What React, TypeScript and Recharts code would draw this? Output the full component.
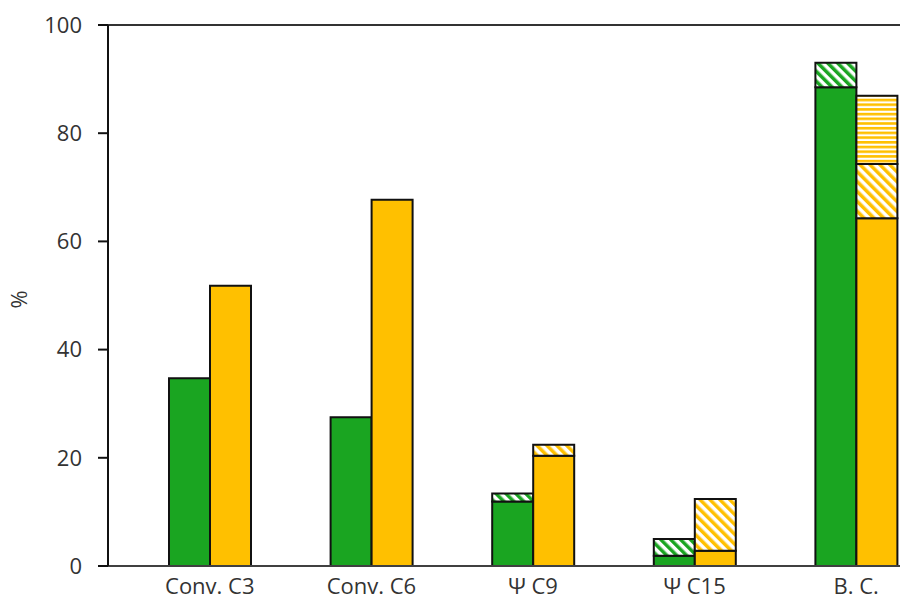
import React from 'react';
import { BarChart, Bar, XAxis, YAxis, ReferenceLine } from 'recharts';

// Category labels along the x axis
const categories = ['Conv. C3', 'Conv. C6', 'Ψ C9', 'Ψ C15', 'B. C.'];

// Green stack: solid base and hatched top segment (%)
const greenSolid = [34.7, 27.5, 11.9, 1.9, 88.5];
const greenHatch = [0, 0, 1.5, 3.1, 4.5];

// Yellow stack: solid base, diagonal-hatched and horizontal-hatched segments (%)
const yellowSolid = [51.8, 67.7, 20.4, 2.8, 64.3];
const yellowDiag = [0, 0, 2.0, 9.6, 10.0];
const yellowHoriz = [0, 0, 0, 0, 12.6];

const yTicks = [0, 20, 40, 60, 80, 100];

const GREEN = '#1AA521';
const YELLOW = '#FFC000';
const FONT = '"Open Sans", sans-serif';

const data = categories.map((cat, i) => ({
  cat,
  gSolid: greenSolid[i],
  gHatch: greenHatch[i],
  ySolid: yellowSolid[i],
  yDiag: yellowDiag[i],
  yHoriz: yellowHoriz[i],
}));

const tickStyle = { fontFamily: FONT, fontSize: 22, fill: '#333' };

// Rotated "%" title drawn at the left edge, centred on the y axis
const AxisTitle = (props: any) => {
  const vb = props.viewBox || {};
  const cy = (vb.y ?? 0) + (vb.height ?? 0) / 2 + 4;
  const cx = 18;
  return (
    <text
      x={cx}
      y={cy}
      transform={`rotate(-90, ${cx}, ${cy})`}
      textAnchor="middle"
      dominantBaseline="central"
      fontFamily={FONT}
      fontSize={22}
      fill="#333"
    >
      %
    </text>
  );
};

export default function App() {
  return (
    <div style={{ marginTop: -8, marginLeft: -8, width: 908, height: 601, overflow: 'hidden' }}>
      <BarChart
        width={948}
        height={601}
        data={data}
        margin={{ top: 25, right: 11, bottom: 2, left: 0 }}
        barGap={0}
        barSize={41}
      >
        <defs>
          <pattern id="greenDiag" patternUnits="userSpaceOnUse" width="7" height="7" patternTransform="rotate(-45)">
            <rect x="0" y="0" width="7" height="7" fill="#fff" />
            <rect x="0" y="0" width="3.5" height="7" fill={GREEN} />
          </pattern>
          <pattern id="yellowDiag" patternUnits="userSpaceOnUse" width="7" height="7" patternTransform="rotate(-45)">
            <rect x="0" y="0" width="7" height="7" fill="#fff" />
            <rect x="0" y="0" width="3.5" height="7" fill={YELLOW} />
          </pattern>
          <pattern id="yellowHoriz" patternUnits="userSpaceOnUse" width="8" height="4.7">
            <rect x="0" y="0" width="8" height="4.7" fill="#fff" />
            <rect x="0" y="0" width="8" height="2.6" fill={YELLOW} />
          </pattern>
        </defs>
        <XAxis
          dataKey="cat"
          padding={{ left: 21, right: 0 }}
          tickLine={false}
          tickSize={6}
          tickMargin={6}
          height={33}
          axisLine={{ stroke: '#404040', strokeWidth: 2 }}
          tick={tickStyle}
          interval={0}
        />
        <YAxis
          width={108}
          domain={[0, 100]}
          ticks={yTicks}
          allowDataOverflow
          tickSize={10}
          tickMargin={16}
          axisLine={{ stroke: '#111', strokeWidth: 2 }}
          tickLine={{ stroke: '#111', strokeWidth: 2 }}
          tick={tickStyle}
          label={<AxisTitle />}
        />
        <ReferenceLine y={100} stroke="#333" strokeWidth={2} ifOverflow="extendDomain" />
        <Bar dataKey="gSolid" stackId="g" fill={GREEN} stroke="#111" strokeWidth={2} isAnimationActive={false} />
        <Bar dataKey="gHatch" stackId="g" fill="url(#greenDiag)" stroke="#111" strokeWidth={2} isAnimationActive={false} />
        <Bar dataKey="ySolid" stackId="y" fill={YELLOW} stroke="#111" strokeWidth={2} isAnimationActive={false} />
        <Bar dataKey="yDiag" stackId="y" fill="url(#yellowDiag)" stroke="#111" strokeWidth={2} isAnimationActive={false} />
        <Bar dataKey="yHoriz" stackId="y" fill="url(#yellowHoriz)" stroke="#111" strokeWidth={2} isAnimationActive={false} />
      </BarChart>
    </div>
  );
}
